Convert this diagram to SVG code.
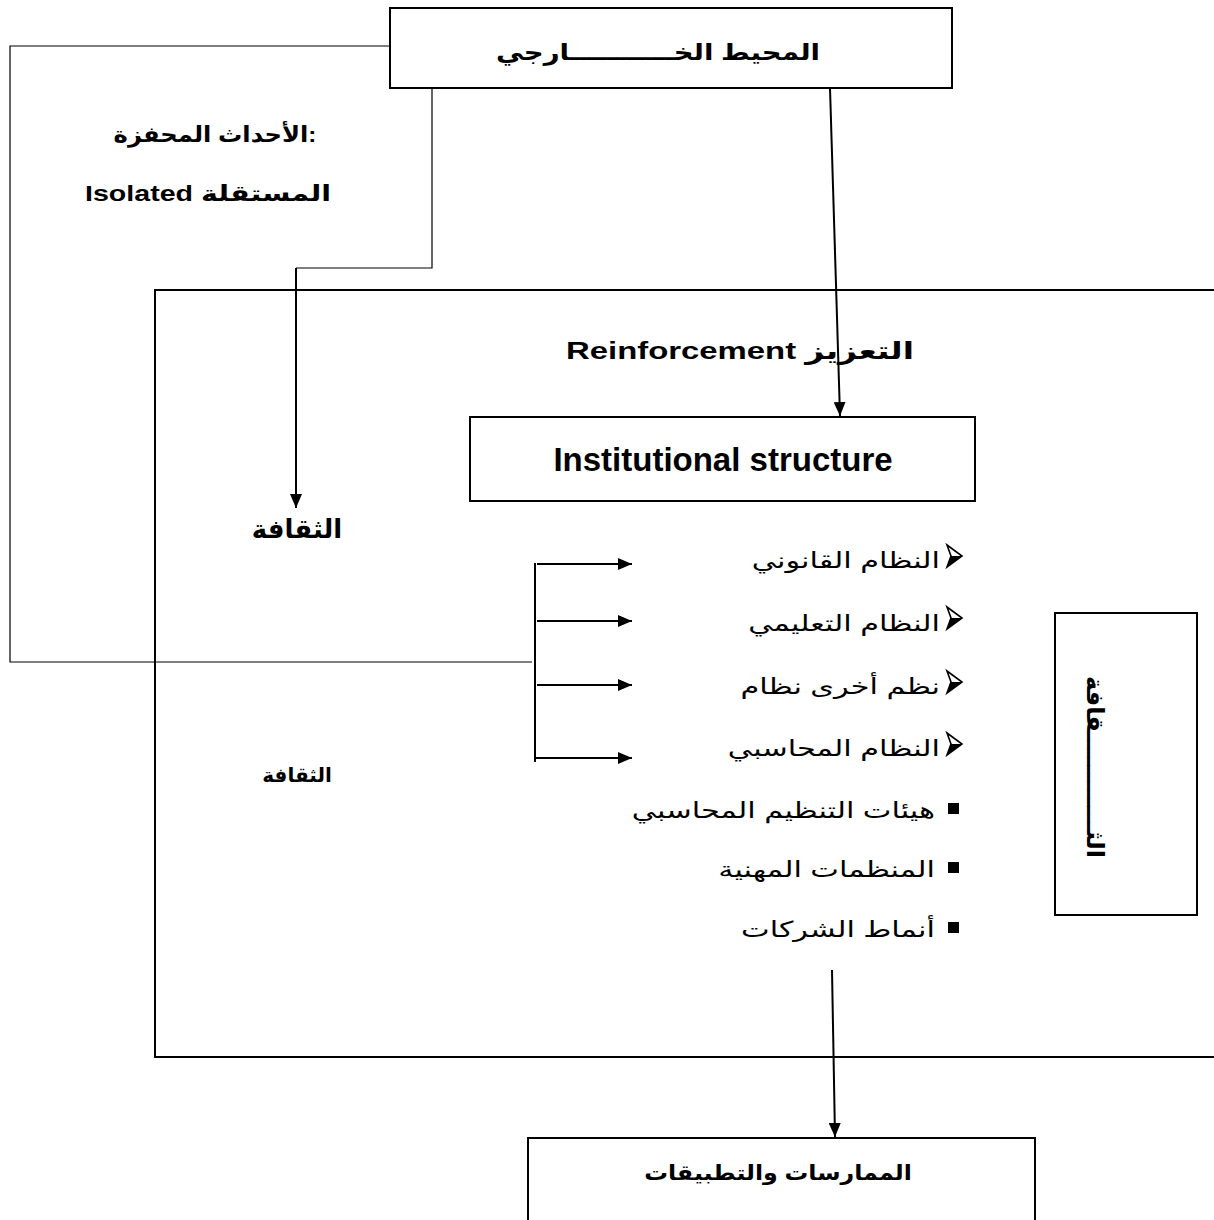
<svg xmlns="http://www.w3.org/2000/svg" width="1214" height="1220" viewBox="0 0 1214 1220">
<style>
.box{fill:#fff;stroke:#000;stroke-width:2}
.frame{fill:none;stroke:#000;stroke-width:2}
.ln{fill:none;stroke:#000;stroke-width:1.2}
.ar{fill:none;stroke:#000;stroke-width:2}
.b{font-family:"Liberation Sans","DejaVu Sans",sans-serif;font-weight:bold;fill:#000}
.n{font-family:"Liberation Sans","DejaVu Sans",sans-serif;fill:#000;font-size:22px}
.blt{fill:#fff;stroke:#000;stroke-width:1.6;stroke-linejoin:miter}
</style>
<defs>
<marker id="ah" viewBox="0 0 14 12" refX="14" refY="6" markerWidth="14" markerHeight="12" markerUnits="userSpaceOnUse" orient="auto">
<path d="M0,0 L14,6 L0,12 z" fill="#000"/>
</marker>
<g id="arrowbullet">
<path class="blt" d="M0,0 L15,11 L0,22 L4,11 z"/>
<path d="M4,11 L15,11 L0,22 z" fill="#000"/>
</g>
</defs>
<rect width="1214" height="1220" fill="#fff"/>
<g id="culture-frame">
<path class="frame" d="M1214,290 H155 V1057 H1214"/>
<text class="b" x="297" y="538" font-size="26" text-anchor="middle">الثقافة</text>
<text class="b" x="297" y="782" font-size="20" text-anchor="middle">الثقافة</text>
<text class="b" font-size="24" text-anchor="middle" direction="rtl" unicode-bidi="embed" transform="translate(740,359) scale(1.37,1)">التعزيز Reinforcement</text>
</g>
<g id="external">
<rect class="box" x="390" y="8" width="562" height="80"/>
<text class="b" font-size="23" text-anchor="middle" transform="translate(658,60) scale(1.2,1)">المحيط الخـــــــــــارجي</text>
</g>
<g id="events">
<text class="b" font-size="22" text-anchor="middle" transform="translate(215,142) scale(1.1,1)">الأحداث المحفزة:</text>
<text class="b" font-size="22" text-anchor="middle" direction="rtl" unicode-bidi="embed" transform="translate(208,201) scale(1.3,1)">المستقلة Isolated</text>
</g>
<g id="institutional">
<rect class="box" x="470" y="417" width="505" height="84"/>
<text class="b" x="723" y="471" font-size="33" text-anchor="middle">Institutional structure</text>
</g>
<g id="list">
<use href="#arrowbullet" x="947" y="545"/>
<use href="#arrowbullet" x="947" y="607"/>
<use href="#arrowbullet" x="947" y="671"/>
<use href="#arrowbullet" x="947" y="733"/>
<text class="n" text-anchor="end" transform="translate(940,568) scale(1.38,1)">النظام القانوني</text>
<text class="n" text-anchor="end" transform="translate(940,631) scale(1.38,1)">النظام التعليمي</text>
<text class="n" text-anchor="end" transform="translate(940,694) scale(1.38,1)">نظم أخرى نظام</text>
<text class="n" text-anchor="end" transform="translate(940,756) scale(1.38,1)">النظام المحاسبي</text>
<rect x="948" y="803" width="11" height="11" fill="#000"/>
<rect x="948" y="862" width="11" height="11" fill="#000"/>
<rect x="948" y="922" width="11" height="11" fill="#000"/>
<text class="n" text-anchor="end" transform="translate(935,818) scale(1.38,1)">هيئات التنظيم المحاسبي</text>
<text class="n" text-anchor="end" transform="translate(935,877) scale(1.38,1)">المنظمات المهنية</text>
<text class="n" text-anchor="end" transform="translate(935,937) scale(1.38,1)">أنماط الشركات</text>
</g>
<g id="culture-box">
<rect class="box" x="1055" y="613" width="142" height="302"/>
<text class="b" font-size="24" text-anchor="middle" transform="translate(1087,767) rotate(90)">الثــــــــــــقافة</text>
</g>
<g id="practices">
<path class="box" d="M528,1222 V1138 H1035 V1222"/>
<text class="b" font-size="21" text-anchor="middle" transform="translate(778,1180) scale(1.13,1)">الممارسات والتطبيقات</text>
</g>
<g id="connectors">
<path class="ln" d="M390,46 H10 V662 H532"/>
<path class="ln" d="M432,88 V268 H296"/>
<path class="ar" d="M296,268 V508" marker-end="url(#ah)"/>
<path class="ar" d="M830,88 L840,416" marker-end="url(#ah)"/>
<path class="ar" d="M535,563 V762"/>
<path class="ar" d="M537,564 H632" marker-end="url(#ah)"/>
<path class="ar" d="M537,621 H632" marker-end="url(#ah)"/>
<path class="ar" d="M537,685 H632" marker-end="url(#ah)"/>
<path class="ar" d="M535,758 H632" marker-end="url(#ah)"/>
<path class="ar" d="M832,970 L835,1137" marker-end="url(#ah)"/>
</g>
</svg>
